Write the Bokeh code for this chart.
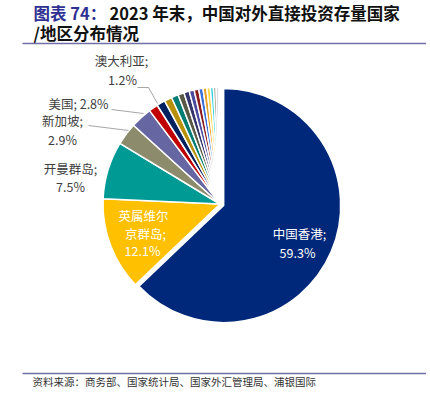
import math
from bokeh.plotting import figure
from bokeh.models import Range1d
from bokeh.core.properties import value
from bokeh.embed import file_html
from bokeh.resources import INLINE

# ---------------- data ----------------
title_prefix = "图表 74："
title_line1 = "2023 年末，中国对外直接投资存量国家"
title_line2 = "/地区分布情况"
source_note = "资料来源：商务部、国家统计局、国家外汇管理局、浦银国际"

regions = ["中国香港", "英属维尔京群岛", "开曼群岛", "新加坡", "美国", "澳大利亚",
           "其他1", "其他2", "其他3", "其他4", "其他5", "其他6", "其他7",
           "其他8", "其他9", "其他10", "其他11", "其他12", "其他13", "其他14"]
shares = [59.3, 12.1, 7.5, 2.9, 2.8, 1.2,
          1.1, 1.0, 0.9, 0.8, 0.7, 0.65, 0.6, 0.55, 0.5, 0.45, 0.4, 0.35, 0.3, 0.2]
colors = ["#00287A", "#FFC000", "#009A95", "#8C8C6C", "#6666A3", "#C00000",
          "#002060", "#B8900A", "#007C73", "#595945", "#35356B", "#4A4AA0",
          "#8B1A1A", "#3A6FD8", "#E8A020", "#FFD23F", "#2FD0E0", "#A0A090",
          "#B8B8D8", "#D8D8D8"]

# labelled slices: label lines
label_lines = {
    0: ["中国香港;", "{}"],
    1: ["英属维尔", "京群岛;", "{}"],
    2: ["开曼群岛;", "{}"],
    3: ["新加坡;", "{}"],
    4: ["美国; {}"],
    5: ["澳大利亚;", "{}"],
}

# ---------------- layout (screen pixel coords) ----------------
W, H = 426, 395
def Y(py):
    return H - py

p = figure(width=W, height=H, output_backend="svg", toolbar_location=None,
           x_range=Range1d(0, W), y_range=Range1d(0, H),
           x_axis_location=None, y_axis_location=None, min_border=0,
           background_fill_color="white", border_fill_color="white")
p.outline_line_color = None
p.xgrid.visible = False
p.ygrid.visible = False

CJK = value("Noto Sans CJK SC")

# title
p.text(x=[33], y=[Y(12)], text=[title_prefix], text_font=CJK,
       text_font_size=value("16.5px"), text_font_style="bold",
       text_color="#2E3192", text_baseline="middle", text_align="left")
p.text(x=[109], y=[Y(12)], text=[title_line1], text_font=CJK,
       text_font_size=value("16.5px"), text_font_style="bold",
       text_color="#111111", text_baseline="middle", text_align="left")
p.text(x=[33], y=[Y(32)], text=[title_line2], text_font=CJK,
       text_font_size=value("16.5px"), text_font_style="bold",
       text_color="#111111", text_baseline="middle", text_align="left")

# rules
p.line(x=[22, 426], y=[Y(43), Y(43)], line_color="#7070A8", line_width=1.5)
p.line(x=[22, 426], y=[Y(373), Y(373)], line_color="#7070A8", line_width=1.5)

# source
p.text(x=[32], y=[Y(381)], text=[source_note], text_font=CJK,
       text_font_size=value("10.5px"), text_color="#333333",
       text_baseline="middle", text_align="left")

# ---------------- pie ----------------
cx, cy = 219.5, 203.5   # screen px
R = 117
explode = 4.0
total = sum(shares)
start = math.pi / 2
for i, (v, c) in enumerate(zip(shares, colors)):
    span = v / total * 2 * math.pi
    end = start - span
    mid = (start + end) / 2
    ox = explode * math.cos(mid) if i == 0 else 0.0
    oy = explode * math.sin(mid) if i == 0 else 0.0
    p.wedge(x=[cx + ox], y=[Y(cy) + oy], radius=R, start_angle=end, end_angle=start,
            fill_color=c, line_color="white", line_width=1.5)
    start = end

# leader lines
leader_color = "#A6A6A6"
p.line(x=[137, 148, 157], y=[Y(87), Y(87), Y(103)], line_color=leader_color, line_width=1)
p.line(x=[111, 143], y=[Y(109), Y(113)], line_color=leader_color, line_width=1)
p.line(x=[88, 128], y=[Y(125), Y(130)], line_color=leader_color, line_width=1)

# labels
label_pos = {
    0: [(299, 233), (297, 252)],
    1: [(143, 215), (145, 233), (142, 250)],
    2: [(70, 168), (70, 186)],
    3: [(62, 120), (62, 139)],
    4: [(78, 103)],
    5: [(121, 60), (122, 79)],
}
label_color = {0: "white", 1: "white"}
for i, lines in label_lines.items():
    pct = "{:.1f}%".format(shares[i])
    for ln, (lx, ly) in zip(lines, label_pos[i]):
        p.text(x=[lx], y=[Y(ly)], text=[ln.format(pct)], text_font=CJK,
               text_font_size=value("12.5px"),
               text_color=label_color.get(i, "#404040"),
               text_baseline="middle", text_align="center")

open("out.html", "w").write(file_html(p, INLINE))
